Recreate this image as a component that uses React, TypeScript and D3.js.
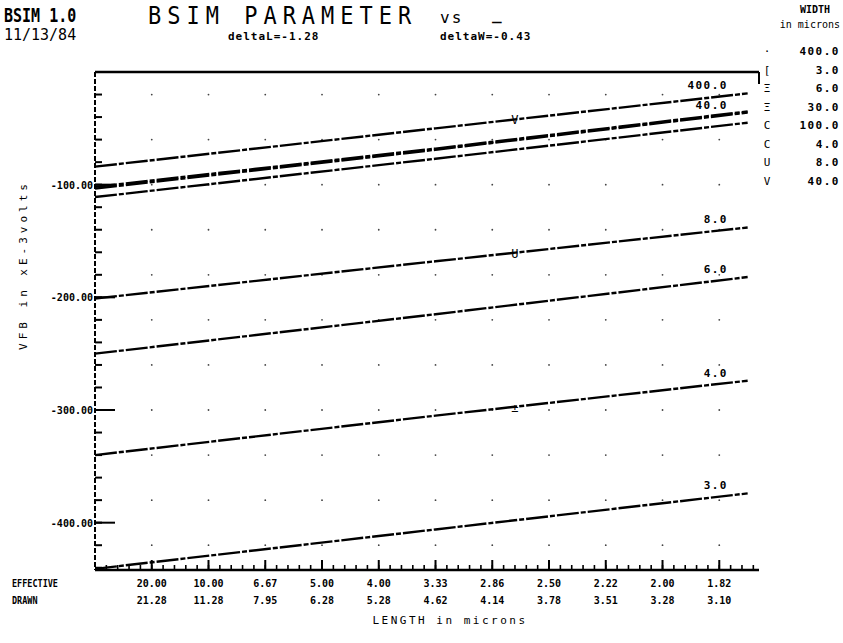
import React from "react";
import * as d3 from "d3";

// ---- data ----
const invLenPts = [0, 0.3, 0.575];
const vfb400 = [-84, -50, -19];
const vfb100 = [-102, -68, -35];
const vfb40 = [-103.5, -69, -36];
const vfb30 = [-111, -77, -45];
const vfb8 = [-201, -168, -138];
const vfb6 = [-250, -215, -182];
const vfb4 = [-340, -305, -274];
const vfb3 = [-441, -406, -374];
const seriesVals = [vfb400, vfb100, vfb40, vfb30, vfb8, vfb6, vfb4, vfb3];
const lineLabels = ["400.0", "", "40.0", "", "8.0", "6.0", "4.0", "3.0"];

const legendSymbols = ["·", "[", "Ξ", "Ξ", "C", "C", "U", "V"];
const legendWidths = ["400.0", "3.0", "6.0", "30.0", "100.0", "4.0", "8.0", "40.0"];

const majorInv = [0.05, 0.1, 0.15, 0.2, 0.25, 0.3, 0.35, 0.4, 0.45, 0.5, 0.55];
const effectiveLabels = ["20.00", "10.00", "6.67", "5.00", "4.00", "3.33", "2.86", "2.50", "2.22", "2.00", "1.82"];
const drawnLabels = ["21.28", "11.28", "7.95", "6.28", "5.28", "4.62", "4.14", "3.78", "3.51", "3.28", "3.10"];
const yMajor = [-100, -200, -300, -400];
const yMajorLabels = ["-100.00", "-200.00", "-300.00", "-400.00"];

// markers on lines: [series index, 1/L]
const markerSeries = [0, 4, 6];
const markerInv = [0.37, 0.37, 0.37];
const markerGlyph = ["V", "U", "±"];

const X_MAX = 0.585;
const Y_MIN = -442;
const MONO = "'DejaVu Sans Mono', monospace";

function T({ x, y, text, size = 12, sx = 1, sy = 1, anchor = "start", weight = "normal", ls = 0, rotate = 0 }: any) {
  return (
    <text
      transform={`translate(${x},${y}) rotate(${rotate}) scale(${sx},${sy})`}
      fontFamily={MONO}
      fontSize={size}
      fontWeight={weight}
      textAnchor={anchor}
      letterSpacing={ls}
      fill="#000"
    >
      {text}
    </text>
  );
}

export default function App() {
  const x = d3.scaleLinear().domain([0, X_MAX]).range([95, 759]);
  const y = d3.scaleLinear().domain([0, Y_MIN]).range([72, 570]);
  const line = d3
    .line<number>()
    .x((_, i) => x(invLenPts[i]))
    .y((d) => y(d));

  const minorX = d3.range(1, 59).map((i) => i / 100);
  const minorY = d3.range(-20, -441, -20);
  const gridY = d3.range(-20, -441, -40);

  return (
    <svg width={843} height={643} style={{ position: "absolute", left: 0, top: 0, background: "#fff" }}>
      <rect width={843} height={643} fill="#fff" />
      {/* header */}
      <T x={4} y={22} text="BSIM 1.0" size={15} sy={1.25} weight="bold" />
      <T x={4} y={40} text="11/13/84" size={15} sy={1.1} />
      <T x={148} y={24} text="BSIM PARAMETER" size={22} sy={1.15} ls={6} />
      <T x={440} y={23} text="vs" size={16} ls={2} />
      <T x={492} y={20} text="_" size={16} weight="bold" />
      <T x={228} y={40} text="deltaL=-1.28" size={11} weight="bold" ls={1} />
      <T x={440} y={40} text="deltaW=-0.43" size={11} weight="bold" ls={1} />
      <T x={830} y={13} text="WIDTH" size={10} anchor="end" weight="bold" />
      <T x={840} y={28} text="in microns" size={10} anchor="end" />

      {/* legend */}
      {legendWidths.map((w, i) => (
        <g key={"lg" + i}>
          <T x={767} y={55 + i * 18.5} text={legendSymbols[i]} size={11} anchor="middle" />
          <T x={840} y={55 + i * 18.5} text={w} size={11} anchor="end" weight="bold" ls={1.5} />
        </g>
      ))}

      {/* frame */}
      <line x1={x(0)} x2={x(X_MAX)} y1={y(0)} y2={y(0)} stroke="#000" strokeWidth={2.5} />
      <line x1={x(X_MAX)} x2={x(X_MAX)} y1={y(0)} y2={y(0) + 12} stroke="#000" strokeWidth={2} />
      <line x1={x(0)} x2={x(0)} y1={y(0)} y2={y(Y_MIN)} stroke="#000" strokeWidth={2} strokeDasharray="5 2" />
      <line x1={x(0)} x2={x(X_MAX)} y1={y(Y_MIN)} y2={y(Y_MIN)} stroke="#000" strokeWidth={2.5} />

      {/* grid dots */}
      {majorInv.map((v, i) =>
        gridY.map((g, j) => <circle key={`gd${i}-${j}`} cx={x(v)} cy={y(g)} r={0.9} fill="#444" />)
      )}

      {/* y ticks */}
      {minorY.map((v) => (
        <line key={"my" + v} x1={x(0)} x2={x(0) + 7} y1={y(v)} y2={y(v)} stroke="#000" strokeWidth={2} />
      ))}
      {yMajor.map((v, i) => (
        <g key={"My" + v}>
          <line x1={x(0)} x2={x(0) + 20} y1={y(v)} y2={y(v)} stroke="#000" strokeWidth={2} />
          <T x={x(0) - 2} y={y(v) + 4} text={yMajorLabels[i]} size={10} anchor="end" weight="bold" />
        </g>
      ))}
      <T x={27} y={265} text="VFB in xE-3volts" size={11} rotate={-90} anchor="middle" ls={4} />

      {/* x ticks */}
      {minorX.map((v) => (
        <line key={"mx" + v} x1={x(v)} x2={x(v)} y1={y(Y_MIN)} y2={y(Y_MIN) - 5} stroke="#000" strokeWidth={1.6} />
      ))}
      {majorInv.map((v, i) => (
        <g key={"Mx" + i}>
          <line x1={x(v)} x2={x(v)} y1={y(Y_MIN)} y2={y(Y_MIN) - 10} stroke="#000" strokeWidth={2} />
          <T x={x(v)} y={587} text={effectiveLabels[i]} size={10} anchor="middle" weight="bold" />
          <T x={x(v)} y={604} text={drawnLabels[i]} size={10} anchor="middle" weight="bold" />
        </g>
      ))}
      <T x={12} y={587} text="EFFECTIVE" size={10} weight="bold" sx={0.85} />
      <T x={12} y={604} text="DRAWN" size={10} weight="bold" sx={0.85} />
      <T x={450} y={624} text="LENGTH in microns" size={11} anchor="middle" ls={2.5} />

      {/* data lines */}
      {seriesVals.map((s, i) => (
        <g key={"s" + i}>
          <path d={line(s) || ""} fill="none" stroke="#000" strokeWidth={2.4} strokeDasharray="22 2 5 2" />
          {lineLabels[i] && (
            <T x={728} y={y(s[s.length - 1]) - 4} text={lineLabels[i]} size={11} anchor="end" weight="bold" ls={1.5} />
          )}
        </g>
      ))}
      {markerSeries.map((si, k) => {
        const s = seriesVals[si];
        const v = s[1] + ((s[2] - s[1]) * (markerInv[k] - invLenPts[1])) / (invLenPts[2] - invLenPts[1]);
        return <T key={"mk" + k} x={x(markerInv[k])} y={y(v) + 5} text={markerGlyph[k]} size={12} anchor="middle" />;
      })}
    </svg>
  );
}
